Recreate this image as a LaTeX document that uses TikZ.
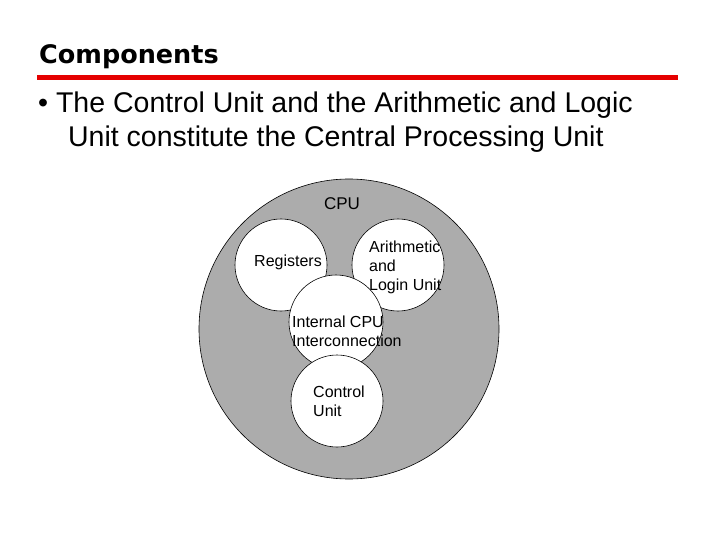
\documentclass[tikz,border=0pt]{standalone}
\usepackage{fontspec}
\setmainfont{Liberation Sans}
\newfontfamily\titlefont{DejaVu Sans}
\usepackage{tikz}
\usetikzlibrary{positioning}
\begin{document}
\begin{tikzpicture}[x=1pt,y=-1pt,
  unit/.style={circle,draw=black,fill=white,line width=0.6pt,inner sep=0pt},
  lbl/.style={font=\fontsize{16}{19}\selectfont,align=left,anchor=west,inner sep=0pt}]
  \useasboundingbox (0,0) rectangle (720,540);
  % Kopfzeile
  \node[anchor=west,inner sep=0pt,font=\titlefont\bfseries\fontsize{25.5}{30}\selectfont] (titel) at (39,57) {Components};
  \fill[red!90!black] (37,75.5) rectangle (678,80.5);
  \node[anchor=north west,align=left,inner sep=0pt,font=\fontsize{28.5}{34}\selectfont] (text) at (38,92)
    {\textbullet\ The Control Unit and the Arithmetic and Logic\\
     \hspace*{1.05em}Unit constitute the Central Processing Unit};
  % CPU
  \node[unit,fill=gray!65,minimum size=300pt] (cpu) at (349,329) {};
  \node[font=\fontsize{17}{20}\selectfont] (cpulbl) at (342,204) {CPU};
  \node[unit,minimum size=92pt] (reg) at (281,265) {};
  \node[unit,minimum size=92pt] (alu) at (398,265) {};
  \node[unit,minimum size=94pt] (bus) at (336,322) {};
  \node[unit,minimum size=92pt] (cu) at (337,401) {};
  \node[lbl] at (254,262) {Registers};
  \node[lbl] at (369,267) {Arithmetic\\and\\Login Unit};
  \node[lbl] at (292,331) {Internal CPU\\Interconnection};
  \node[lbl] at (313,401) {Control\\Unit};
\end{tikzpicture}
\end{document}
